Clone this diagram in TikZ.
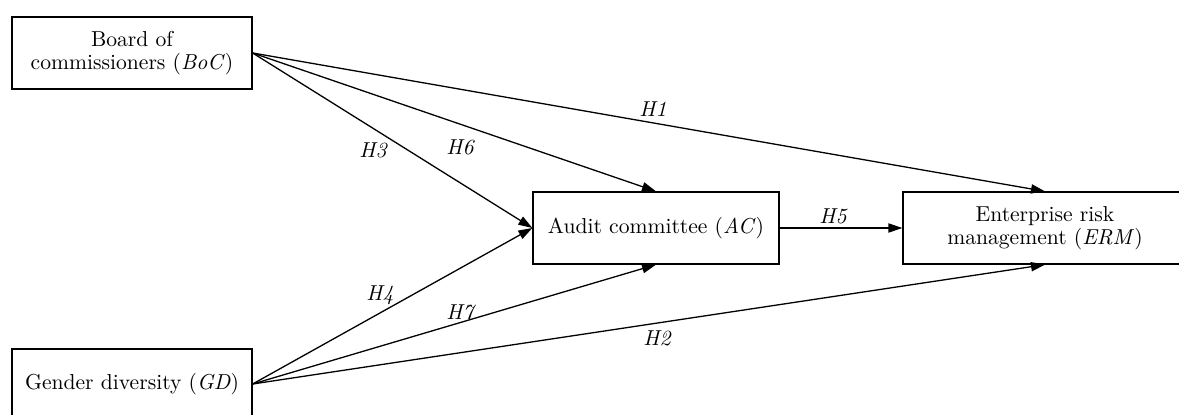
\documentclass[tikz,border=0pt]{standalone}
\usepackage{fontspec}
\usetikzlibrary{arrows.meta}
\begin{document}
\begin{tikzpicture}[x=0.5pt,y=-0.5pt,
  box/.style={draw,line width=0.65pt,align=center,inner sep=2pt,font=\fontsize{10.8}{11.4}\selectfont},
  conn/.style={line width=0.65pt,-{Triangle[length=7pt,width=4.6pt]}},
  lbl/.style={font=\fontsize{10.8}{12}\selectfont\itshape}]
\useasboundingbox (0,0) rectangle (1179,415);
\node[box,minimum width=120pt,minimum height=36pt] (boc) at (132,53) {Board of\\commissioners (\textit{BoC})};
\node[box,minimum width=120pt,minimum height=35pt] (gd) at (132,384) {Gender diversity (\textit{GD})};
\node[box,minimum width=123pt,minimum height=36pt] (ac) at (656,228) {Audit committee (\textit{AC})};
\node[box,minimum width=142pt,minimum height=36pt] (erm) at (1045,228) {Enterprise risk\\management (\textit{ERM})};
\draw[conn] (boc.east) -- (erm.north);
\draw[conn] (boc.east) -- (ac.north);
\draw[conn] (boc.east) -- (ac.west);
\draw[conn] (gd.east) -- (ac.west);
\draw[conn] (gd.east) -- (ac.south);
\draw[conn] (gd.east) -- (erm.south);
\draw[conn] (ac.east) -- (erm.west);
\node[lbl] (h1) at (653,109) {H1};
\node[lbl] (h2) at (657,338) {H2};
\node[lbl] (h3) at (373,150) {H3};
\node[lbl] (h4) at (380,295) {H4};
\node[lbl] (h5) at (833,216) {H5};
\node[lbl] (h6) at (460,147) {H6};
\node[lbl] (h7) at (460,312) {H7};
\end{tikzpicture}
\end{document}
